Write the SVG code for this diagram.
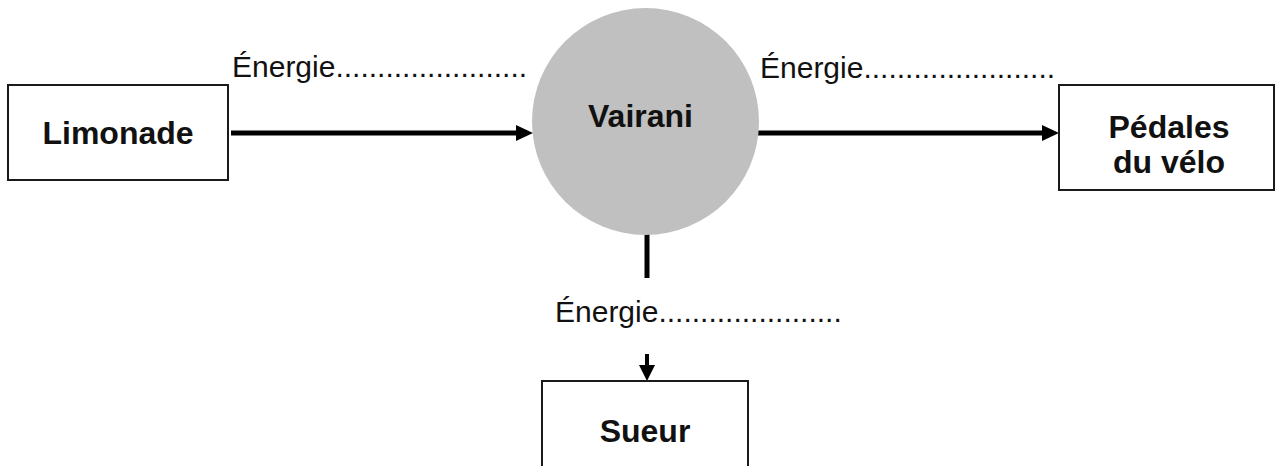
<svg xmlns="http://www.w3.org/2000/svg" width="1276" height="466" viewBox="0 0 1276 466">
  <style>
    .box { fill: #ffffff; stroke: #1a1a1a; stroke-width: 2; }
    .bold { font-family: "Liberation Sans", Arial, sans-serif; font-weight: bold; font-size: 32px; fill: #111111; text-anchor: middle; }
    .lbl { font-family: "Liberation Sans", Arial, sans-serif; font-size: 30px; fill: #111111; }
    .line { stroke: #000000; stroke-width: 5; fill: none; }
    .head { fill: #000000; }
  </style>
  <rect width="1276" height="466" fill="#ffffff"/>

  <g id="connectors">
    <line class="line" x1="231" y1="133" x2="518" y2="133"/>
    <polygon class="head" points="516,125 533,133 516,141"/>
    <line class="line" x1="757" y1="133" x2="1044" y2="133"/>
    <polygon class="head" points="1042,125 1059,133 1042,141"/>
    <line class="line" x1="647" y1="234" x2="647" y2="278"/>
    <line x1="647" y1="354" x2="647" y2="367" stroke="#000" stroke-width="4"/>
    <polygon class="head" points="639,365 655,365 647,381"/>
    <text class="lbl" x="232" y="77">Énergie.......................</text>
    <text class="lbl" x="760" y="78">Énergie.......................</text>
    <text class="lbl" x="555" y="322">Énergie......................</text>
  </g>

  <g id="node-limonade">
    <rect class="box" x="8" y="85" width="220" height="95"/>
    <text class="bold" x="118" y="144">Limonade</text>
  </g>

  <g id="node-vairani">
    <circle cx="645.5" cy="121.5" r="113.5" fill="#c0c0c0"/>
    <text class="bold" x="640.5" y="127">Vairani</text>
  </g>

  <g id="node-pedales">
    <rect class="box" x="1059" y="85" width="215" height="105"/>
    <text class="bold" x="1169" y="138">Pédales</text>
    <text class="bold" x="1169" y="173">du vélo</text>
  </g>

  <g id="node-sueur">
    <rect class="box" x="542" y="381" width="206" height="100"/>
    <text class="bold" x="645" y="442">Sueur</text>
  </g>
</svg>
